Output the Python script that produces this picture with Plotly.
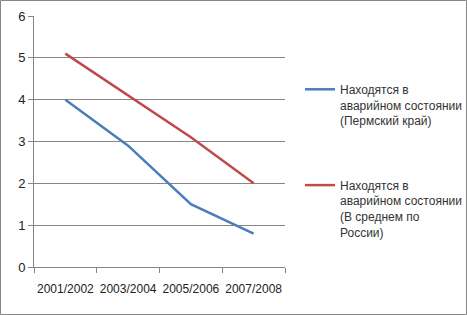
import plotly.graph_objects as go

categories = ["2001/2002", "2003/2004", "2005/2006", "2007/2008"]
perm_values = [4.0, 2.9, 1.5, 0.8]
russia_values = [5.1, 4.1, 3.1, 2.0]
series_names = [
    "Находятся в<br>аварийном состоянии<br>(Пермский край)",
    "Находятся в<br>аварийном состоянии<br>(В среднем по<br>России)",
]

W, H = 467, 315
L, R, T, B = 34, 182, 16, 48
pw, ph = W - L - R, H - T - B

fig = go.Figure()
fig.add_trace(go.Scatter(x=categories, y=perm_values, mode="lines", name=series_names[0],
                         legendgroup="a", line=dict(color="#4A7EBB", width=2.5)))
fig.add_trace(go.Scatter(x=categories, y=russia_values, mode="lines", name=series_names[1],
                         legendgroup="b", line=dict(color="#BE4B48", width=2.5)))

fig.update_layout(
    width=W, height=H,
    margin=dict(l=L, r=R, t=T, b=B, autoexpand=False),
    paper_bgcolor="white", plot_bgcolor="white",
    font=dict(family="Liberation Sans, Arial", size=12, color="#222"),
    showlegend=True,
    legend=dict(x=(300 - L) / pw, y=(H - B - 75) / ph, xanchor="left", yanchor="top",
                valign="top", tracegroupgap=46, itemwidth=30,
                font=dict(size=12, color="#333"), bgcolor="rgba(0,0,0,0)"),
    xaxis=dict(type="category", tickson="boundaries", ticks="outside", ticklen=5,
               tickcolor="#868686", showline=True, linecolor="#868686", linewidth=1,
               showgrid=False, tickfont=dict(size=12), tickangle=0, range=[-0.5, 3.5],
               ticklabelstandoff=11, automargin=False),
    yaxis=dict(range=[0, 6], dtick=1, ticks="outside", ticklen=5, tickcolor="#868686",
               showline=True, linecolor="#868686", linewidth=1, showgrid=True,
               gridcolor="#868686", gridwidth=1, zeroline=False, tickfont=dict(size=13),
               automargin=False),
)

fig.add_shape(type="rect", xref="paper", yref="paper",
              x0=(0.5 - L) / pw, x1=(W - 0.5 - L) / pw,
              y0=(H - B - (H - 0.5)) / ph, y1=(H - B - 0.5) / ph,
              line=dict(color="#868686", width=1), layer="below")

fig.write_html("out.html", config={"displayModeBar": False},
               post_script="document.body.style.margin='0';")
